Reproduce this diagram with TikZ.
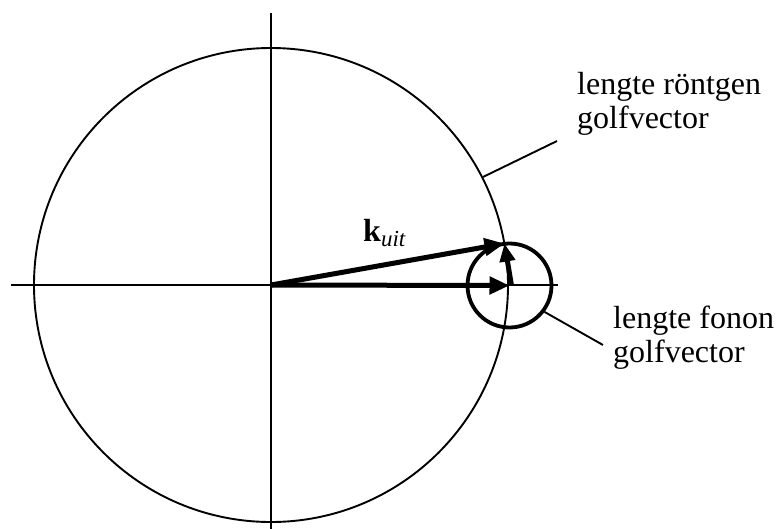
\documentclass[tikz,border=0pt]{standalone}
\usepackage{fontspec}
\setmainfont{Liberation Serif}
\usepackage{tikz}
\usetikzlibrary{arrows.meta,positioning}
\definecolor{ink}{HTML}{000000}

\begin{document}
\begin{tikzpicture}[x=1pt,y=-1pt,
  axis/.style={draw=ink,line width=1.9pt},
  vec/.style={draw=ink,line width=5pt,-{Triangle[length=20pt,width=17pt]}},
  lbl/.style={font=\fontsize{32}{34}\selectfont,align=left,inner sep=0pt,anchor=base west},
]
  \useasboundingbox (0,0) rectangle (776,528);
  \coordinate (o) at (271,285);
  \node[draw=ink,line width=1.9pt,circle,minimum size=474pt,inner sep=0pt] (big) at (o) {};
  \node[draw=ink,line width=3.8pt,circle,minimum size=84pt,inner sep=0pt] (small) at (509.5,285.5) {};
  \coordinate (p) at (504.5,243.5);
  % axes
  \coordinate (xl) at (11,285);  \coordinate (xr) at (558,285);
  \coordinate (yt) at (271,13);  \coordinate (yb) at (271,530);
  \draw[axis] (xl) -- (xr);
  \draw[axis] (yt) -- (yb);
  % vectors
  \draw[vec] (o) -- (small.center);
  \draw[vec] (o) -- (p);
  \draw[vec,-{Triangle[length=18pt,width=15pt]}] ([xshift=2pt]small.center) -- (p);
  \node[lbl] (kuit) at (363,241)
    {\textbf{k}\raisebox{-5pt}{\fontsize{23}{23}\selectfont\itshape uit}};
  % labels
  \node[lbl] (rtext) at (577,128) {lengte röntgen\\golfvector};
  \node[lbl] (ftext) at (613,362) {lengte fonon\\golfvector};
  \coordinate (rend) at (557,141);
  \coordinate (fend) at (603,345);
  \draw[axis] (big.27) -- (rend);
  \draw[axis] (small.-37) -- (fend);
\end{tikzpicture}
\end{document}
